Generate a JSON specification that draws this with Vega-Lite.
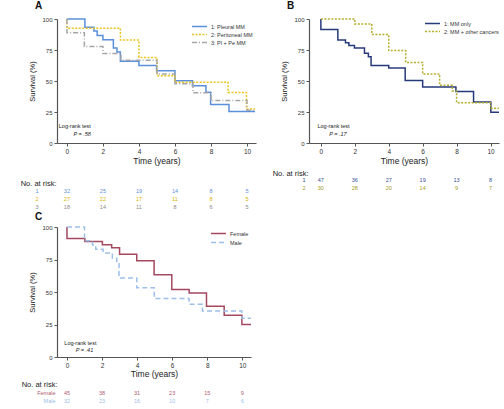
{
  "$schema": "https://vega.github.io/schema/vega-lite/v6.json",
  "background": "white",
  "padding": {"left": 20, "top": 1, "right": 2, "bottom": 1},
  "datasets": {
    "A_curves": [
      {"series": "1: Pleural MM", "t": 0, "s": 100},
      {"series": "1: Pleural MM", "t": 1.0, "s": 93.3},
      {"series": "1: Pleural MM", "t": 1.5, "s": 90.3},
      {"series": "1: Pleural MM", "t": 1.68, "s": 86.7},
      {"series": "1: Pleural MM", "t": 2.0, "s": 83.3},
      {"series": "1: Pleural MM", "t": 2.58, "s": 76.7},
      {"series": "1: Pleural MM", "t": 2.78, "s": 73.3},
      {"series": "1: Pleural MM", "t": 2.97, "s": 66.0},
      {"series": "1: Pleural MM", "t": 4.0, "s": 62.5},
      {"series": "1: Pleural MM", "t": 4.98, "s": 58.3},
      {"series": "1: Pleural MM", "t": 6.0, "s": 50.2},
      {"series": "1: Pleural MM", "t": 6.97, "s": 46.2},
      {"series": "1: Pleural MM", "t": 7.72, "s": 41.0},
      {"series": "1: Pleural MM", "t": 7.98, "s": 31.0},
      {"series": "1: Pleural MM", "t": 9.0, "s": 25.5},
      {"series": "1: Pleural MM", "t": 10.45, "s": 25.5},
      {"series": "2: Peritoneal MM", "t": 0, "s": 100},
      {"series": "2: Peritoneal MM", "t": 0, "s": 92.6},
      {"series": "2: Peritoneal MM", "t": 2.97, "s": 83.0},
      {"series": "2: Peritoneal MM", "t": 4.0, "s": 69.0},
      {"series": "2: Peritoneal MM", "t": 5.0, "s": 54.3},
      {"series": "2: Peritoneal MM", "t": 6.0, "s": 49.0},
      {"series": "2: Peritoneal MM", "t": 8.95, "s": 40.8},
      {"series": "2: Peritoneal MM", "t": 9.97, "s": 27.5},
      {"series": "2: Peritoneal MM", "t": 10.45, "s": 27.5},
      {"series": "3: Pl + Pe MM", "t": 0, "s": 100},
      {"series": "3: Pl + Pe MM", "t": 0, "s": 88.9},
      {"series": "3: Pl + Pe MM", "t": 0.97, "s": 77.8},
      {"series": "3: Pl + Pe MM", "t": 2.0, "s": 72.2},
      {"series": "3: Pl + Pe MM", "t": 3.0, "s": 66.7},
      {"series": "3: Pl + Pe MM", "t": 5.0, "s": 55.6},
      {"series": "3: Pl + Pe MM", "t": 6.0, "s": 47.8},
      {"series": "3: Pl + Pe MM", "t": 7.0, "s": 40.6},
      {"series": "3: Pl + Pe MM", "t": 8.0, "s": 34.2},
      {"series": "3: Pl + Pe MM", "t": 10.0, "s": 26.5},
      {"series": "3: Pl + Pe MM", "t": 10.45, "s": 26.5}
    ],
    "A_risk": [
      {"group": "1", "t": 0, "n": 32}, {"group": "1", "t": 2, "n": 25}, {"group": "1", "t": 4, "n": 19},
      {"group": "1", "t": 6, "n": 14}, {"group": "1", "t": 8, "n": 8}, {"group": "1", "t": 10, "n": 5},
      {"group": "2", "t": 0, "n": 27}, {"group": "2", "t": 2, "n": 22}, {"group": "2", "t": 4, "n": 17},
      {"group": "2", "t": 6, "n": 11}, {"group": "2", "t": 8, "n": 8}, {"group": "2", "t": 10, "n": 5},
      {"group": "3", "t": 0, "n": 18}, {"group": "3", "t": 2, "n": 14}, {"group": "3", "t": 4, "n": 11},
      {"group": "3", "t": 6, "n": 8}, {"group": "3", "t": 8, "n": 6}, {"group": "3", "t": 10, "n": 5}
    ],
    "B_curves": [
      {"series": "1: MM only", "t": 0, "s": 100},
      {"series": "1: MM only", "t": 0, "s": 91.5},
      {"series": "1: MM only", "t": 1.0, "s": 83.0},
      {"series": "1: MM only", "t": 1.45, "s": 80.8},
      {"series": "1: MM only", "t": 1.65, "s": 78.7},
      {"series": "1: MM only", "t": 1.98, "s": 76.6},
      {"series": "1: MM only", "t": 2.57, "s": 72.3},
      {"series": "1: MM only", "t": 2.8, "s": 69.6},
      {"series": "1: MM only", "t": 2.96, "s": 62.5},
      {"series": "1: MM only", "t": 4.0, "s": 60.5},
      {"series": "1: MM only", "t": 4.97, "s": 50.5},
      {"series": "1: MM only", "t": 6.0, "s": 45.2},
      {"series": "1: MM only", "t": 7.96, "s": 41.5},
      {"series": "1: MM only", "t": 9.0, "s": 33.0},
      {"series": "1: MM only", "t": 10.02, "s": 24.8},
      {"series": "1: MM only", "t": 10.5, "s": 24.8},
      {"series": "2: MM + other cancers", "t": 0, "s": 100},
      {"series": "2: MM + other cancers", "t": 2.0, "s": 96.0},
      {"series": "2: MM + other cancers", "t": 3.0, "s": 87.5},
      {"series": "2: MM + other cancers", "t": 4.0, "s": 74.5},
      {"series": "2: MM + other cancers", "t": 5.0, "s": 65.0},
      {"series": "2: MM + other cancers", "t": 6.0, "s": 55.7},
      {"series": "2: MM + other cancers", "t": 7.0, "s": 46.5},
      {"series": "2: MM + other cancers", "t": 7.75, "s": 42.0},
      {"series": "2: MM + other cancers", "t": 8.0, "s": 32.5},
      {"series": "2: MM + other cancers", "t": 10.0, "s": 28.0},
      {"series": "2: MM + other cancers", "t": 10.5, "s": 28.0}
    ],
    "B_risk": [
      {"group": "1", "t": 0, "n": 47}, {"group": "1", "t": 2, "n": 36}, {"group": "1", "t": 4, "n": 27},
      {"group": "1", "t": 6, "n": 19}, {"group": "1", "t": 8, "n": 13}, {"group": "1", "t": 10, "n": 8},
      {"group": "2", "t": 0, "n": 30}, {"group": "2", "t": 2, "n": 28}, {"group": "2", "t": 4, "n": 20},
      {"group": "2", "t": 6, "n": 14}, {"group": "2", "t": 8, "n": 9}, {"group": "2", "t": 10, "n": 7}
    ],
    "C_curves": [
      {"series": "Female", "t": 0, "s": 100},
      {"series": "Female", "t": 0, "s": 91.1},
      {"series": "Female", "t": 1.02, "s": 88.8},
      {"series": "Female", "t": 2.02, "s": 86.4},
      {"series": "Female", "t": 2.55, "s": 84.0},
      {"series": "Female", "t": 3.0, "s": 79.0},
      {"series": "Female", "t": 3.98, "s": 74.0},
      {"series": "Female", "t": 4.97, "s": 63.3},
      {"series": "Female", "t": 5.98, "s": 52.0},
      {"series": "Female", "t": 6.97, "s": 49.3},
      {"series": "Female", "t": 7.96, "s": 39.0},
      {"series": "Female", "t": 8.97, "s": 32.2},
      {"series": "Female", "t": 9.98, "s": 25.0},
      {"series": "Female", "t": 10.5, "s": 25.0},
      {"series": "Male", "t": 0, "s": 100},
      {"series": "Male", "t": 1.0, "s": 89.5},
      {"series": "Male", "t": 1.45, "s": 86.2},
      {"series": "Male", "t": 1.64, "s": 82.8},
      {"series": "Male", "t": 2.06, "s": 80.0},
      {"series": "Male", "t": 2.59, "s": 76.0},
      {"series": "Male", "t": 2.84, "s": 72.5},
      {"series": "Male", "t": 2.97, "s": 60.8},
      {"series": "Male", "t": 3.98, "s": 53.3},
      {"series": "Male", "t": 4.98, "s": 45.0},
      {"series": "Male", "t": 6.97, "s": 40.5},
      {"series": "Male", "t": 7.73, "s": 35.4},
      {"series": "Male", "t": 9.98, "s": 29.8},
      {"series": "Male", "t": 10.5, "s": 29.8}
    ],
    "C_risk": [
      {"group": "Female", "t": 0, "n": 45}, {"group": "Female", "t": 2, "n": 38}, {"group": "Female", "t": 4, "n": 31},
      {"group": "Female", "t": 6, "n": 23}, {"group": "Female", "t": 8, "n": 15}, {"group": "Female", "t": 10, "n": 9},
      {"group": "Male", "t": 0, "n": 32}, {"group": "Male", "t": 2, "n": 23}, {"group": "Male", "t": 4, "n": 16},
      {"group": "Male", "t": 6, "n": 10}, {"group": "Male", "t": 8, "n": 7}, {"group": "Male", "t": 10, "n": 6}
    ]
  },
  "config": {
    "font": "Liberation Sans",
    "view": {"stroke": null},
    "axis": {"grid": false, "domainColor": "#555", "tickColor": "#555", "labelColor": "#333", "titleColor": "#222", "labelFontSize": 6, "titleFontWeight": "normal", "tickSize": 3, "labelPadding": 2, "domainWidth": 1.2, "labelOverlap": false, "labelFlush": false, "tickCount": 20},
    "title": {"fontSize": 10, "fontWeight": "bold", "anchor": "start", "frame": "bounds", "color": "#111", "offset": 5},
    "legend": {"orient": "top-right", "symbolType": "M-2,0H2", "symbolSize": 56, "labelFontSize": 5.5, "symbolStrokeWidth": 1.5, "rowPadding": 0, "padding": 0, "offset": 2, "labelColor": "#333", "labelOffset": 7}
  },
  "resolve": {"scale": {"color": "independent", "strokeDash": "independent"}},
  "spacing": 1,
  "vconcat": [
    {
      "resolve": {"scale": {"color": "independent", "strokeDash": "independent"}},
      "spacing": 13,
      "hconcat": [
        {
          "resolve": {"scale": {"color": "independent", "strokeDash": "independent"}},
          "spacing": 14,
          "vconcat": [
            {
              "title": {"text": "A", "dx": 6},
              "width": 199, "height": 124,
              "layer": [
                {
                  "data": {"name": "A_curves"},
                  "mark": {"type": "line", "interpolate": "step-after", "strokeWidth": 1.5},
                  "encoding": {
                    "x": {"field": "t", "type": "quantitative", "scale": {"domain": [-0.55, 10.5], "nice": false, "zero": false},
                      "axis": {"values": [0, 2, 4, 6, 8, 10], "format": "d", "tickCount": 20, "labelOverlap": false, "title": "Time (years)", "titleFontSize": 8.5, "titlePadding": 2, "labelFontSize": 6.5}},
                    "y": {"field": "s", "type": "quantitative", "scale": {"domain": [0, 100], "nice": false},
                      "axis": {"values": [0, 25, 50, 75, 100], "format": "d", "tickCount": 20, "labelOverlap": false, "title": "Survival (%)", "titleFontSize": 7.5, "titlePadding": 5}},
                    "color": {"field": "series", "type": "nominal",
                      "scale": {"domain": ["1: Pleural MM", "2: Peritoneal MM", "3: Pl + Pe MM"], "range": ["#5b8fd9", "#e8c41c", "#a6a6a6"]},
                      "legend": {"title": null, "offset": 3}},
                    "strokeDash": {"field": "series", "type": "nominal",
                      "scale": {"domain": ["1: Pleural MM", "2: Peritoneal MM", "3: Pl + Pe MM"], "range": [[1, 0], [2, 1.5], [5, 2, 1, 2]]},
                      "legend": {"title": null, "offset": 3}}
                  }
                },
                {
                  "data": {"values": [{}]},
                  "mark": {"type": "text", "text": "Log-rank test", "align": "left", "fontSize": 5.5, "color": "#222"},
                  "encoding": {"x": {"datum": -0.45}, "y": {"datum": 13.5}}
                },
                {
                  "data": {"values": [{}]},
                  "mark": {"type": "text", "text": "P = .58", "align": "center", "fontSize": 5.5, "color": "#222", "fontStyle": "italic"},
                  "encoding": {"x": {"datum": 0.85}, "y": {"datum": 7}}
                }
              ]
            },
            {
              "data": {"name": "A_risk"},
              "width": 199, "height": 24,
              "mark": {"type": "text", "fontSize": 5.5},
              "encoding": {
                "x": {"field": "t", "type": "quantitative", "scale": {"domain": [-0.55, 10.5], "nice": false, "zero": false}, "axis": null},
                "y": {"field": "group", "type": "nominal", "sort": ["1", "2", "3"], "scale": {"type": "band", "paddingInner": 0, "paddingOuter": 0},
                  "axis": {"domain": false, "ticks": false, "labelPadding": 19, "labelFontSize": 5.5,
                    "labelColor": {"condition": [{"test": "datum.value == '1'", "value": "#5b8fd9"}, {"test": "datum.value == '2'", "value": "#d9b300"}], "value": "#8a8a8a"},
                    "title": "No. at risk:", "titleAngle": 0, "titleAlign": "right", "titleBaseline": "middle", "titleX": -1, "titleY": -4, "titleFontSize": 7.5}},
                "text": {"field": "n", "type": "quantitative"},
                "color": {"field": "group", "type": "nominal", "scale": {"domain": ["1", "2", "3"], "range": ["#5b8fd9", "#d9b300", "#8a8a8a"]}, "legend": null}
              }
            }
          ]
        },
        {
          "resolve": {"scale": {"color": "independent", "strokeDash": "independent"}},
          "spacing": 4,
          "vconcat": [
            {
              "title": {"text": "B", "dx": 6},
              "width": 190, "height": 124,
              "layer": [
                {
                  "data": {"name": "B_curves"},
                  "mark": {"type": "line", "interpolate": "step-after", "strokeWidth": 1.5},
                  "encoding": {
                    "x": {"field": "t", "type": "quantitative", "scale": {"domain": [-0.7, 10.5], "nice": false, "zero": false},
                      "axis": {"values": [0, 2, 4, 6, 8, 10], "format": "d", "tickCount": 20, "labelOverlap": false, "title": "Time (years)", "titleFontSize": 8.5, "titlePadding": 2, "labelFontSize": 6.5}},
                    "y": {"field": "s", "type": "quantitative", "scale": {"domain": [0, 100], "nice": false},
                      "axis": {"values": [0, 25, 50, 75, 100], "format": "d", "tickCount": 20, "labelOverlap": false, "title": "Survival (%)", "titleFontSize": 7.5, "titlePadding": 5}},
                    "color": {"field": "series", "type": "nominal",
                      "scale": {"domain": ["1: MM only", "2: MM + other cancers"], "range": ["#263a7a", "#b5ae2c"]},
                      "legend": {"title": null, "offset": 0}},
                    "strokeDash": {"field": "series", "type": "nominal",
                      "scale": {"domain": ["1: MM only", "2: MM + other cancers"], "range": [[1, 0], [2, 1.5]]},
                      "legend": {"title": null, "offset": 0}}
                  }
                },
                {
                  "data": {"values": [{}]},
                  "mark": {"type": "text", "text": "Log-rank test", "align": "left", "fontSize": 5.5, "color": "#222"},
                  "encoding": {"x": {"datum": -0.2}, "y": {"datum": 13.5}}
                },
                {
                  "data": {"values": [{}]},
                  "mark": {"type": "text", "text": "P = .17", "align": "center", "fontSize": 5.5, "color": "#222", "fontStyle": "italic"},
                  "encoding": {"x": {"datum": 1.0}, "y": {"datum": 7}}
                }
              ]
            },
            {
              "data": {"name": "B_risk"},
              "width": 190, "height": 16,
              "mark": {"type": "text", "fontSize": 5.5},
              "encoding": {
                "x": {"field": "t", "type": "quantitative", "scale": {"domain": [-0.7, 10.5], "nice": false, "zero": false}, "axis": null},
                "y": {"field": "group", "type": "nominal", "sort": ["1", "2"], "scale": {"type": "band", "paddingInner": 0, "paddingOuter": 0},
                  "axis": {"domain": false, "ticks": false, "labelPadding": 4, "labelFontSize": 5.5,
                    "labelColor": {"condition": {"test": "datum.value == '1'", "value": "#3c4f8f"}, "value": "#a39a25"},
                    "title": "No. at risk:", "titleAngle": 0, "titleAlign": "right", "titleBaseline": "middle", "titleX": -1, "titleY": -3, "titleFontSize": 7.5}},
                "text": {"field": "n", "type": "quantitative"},
                "color": {"field": "group", "type": "nominal", "scale": {"domain": ["1", "2"], "range": ["#3c4f8f", "#a39a25"]}, "legend": null}
              }
            }
          ]
        }
      ]
    },
    {
      "resolve": {"scale": {"color": "independent", "strokeDash": "independent"}},
      "spacing": 2,
      "vconcat": [
        {
          "title": {"text": "C", "dx": 6, "offset": 2},
          "width": 194, "height": 130,
          "layer": [
            {
              "data": {"name": "C_curves"},
              "mark": {"type": "line", "interpolate": "step-after", "strokeWidth": 1.5},
              "encoding": {
                "x": {"field": "t", "type": "quantitative", "scale": {"domain": [-0.57, 10.5], "nice": false, "zero": false},
                  "axis": {"values": [0, 2, 4, 6, 8, 10], "format": "d", "tickCount": 20, "labelOverlap": false, "title": "Time (years)", "titleFontSize": 8.5, "titlePadding": 1, "labelFontSize": 6.5}},
                "y": {"field": "s", "type": "quantitative", "scale": {"domain": [0, 100], "nice": false},
                  "axis": {"values": [0, 25, 50, 75, 100], "format": "d", "tickCount": 20, "labelOverlap": false, "title": "Survival (%)", "titleFontSize": 7.5, "titlePadding": 5}},
                "color": {"field": "series", "type": "nominal",
                  "scale": {"domain": ["Female", "Male"], "range": ["#a3485f", "#9dbfe8"]},
                  "legend": {"title": null, "offset": 2, "rowPadding": 1}},
                "strokeDash": {"field": "series", "type": "nominal",
                  "scale": {"domain": ["Female", "Male"], "range": [[1, 0], [5, 3]]},
                  "legend": {"title": null, "offset": 2, "rowPadding": 1}}
              }
            },
            {
              "data": {"values": [{}]},
              "mark": {"type": "text", "text": "Log-rank test", "align": "left", "fontSize": 5.5, "color": "#222"},
              "encoding": {"x": {"datum": -0.15}, "y": {"datum": 11}}
            },
            {
              "data": {"values": [{}]},
              "mark": {"type": "text", "text": "P = .41", "align": "center", "fontSize": 5.5, "color": "#222", "fontStyle": "italic"},
              "encoding": {"x": {"datum": 1.0}, "y": {"datum": 5.5}}
            }
          ]
        },
        {
          "data": {"name": "C_risk"},
          "width": 194, "height": 16,
          "mark": {"type": "text", "fontSize": 5.5},
          "encoding": {
            "x": {"field": "t", "type": "quantitative", "scale": {"domain": [-0.57, 10.5], "nice": false, "zero": false}, "axis": null},
            "y": {"field": "group", "type": "nominal", "sort": ["Female", "Male"], "scale": {"type": "band", "paddingInner": 0, "paddingOuter": 0},
              "axis": {"domain": false, "ticks": false, "labelPadding": 2, "labelFontSize": 5.5,
                "labelColor": {"condition": {"test": "datum.value == 'Female'", "value": "#b15a72"}, "value": "#9dbfe8"},
                "title": "No. at risk:", "titleAngle": 0, "titleAlign": "right", "titleBaseline": "middle", "titleX": 0, "titleY": -5, "titleFontSize": 7.5}},
            "text": {"field": "n", "type": "quantitative"},
            "color": {"field": "group", "type": "nominal", "scale": {"domain": ["Female", "Male"], "range": ["#b15a72", "#9dbfe8"]}, "legend": null}
          }
        }
      ]
    }
  ]
}
